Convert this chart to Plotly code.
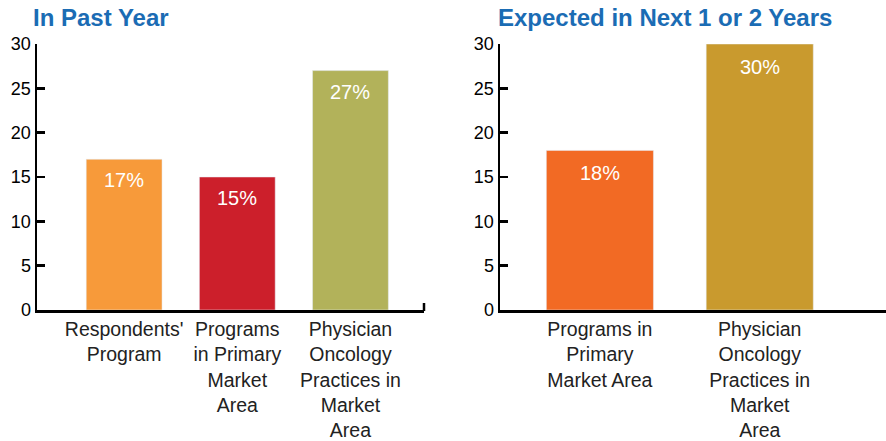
import plotly.graph_objects as go

# Data
left_categories = ["Respondents'<br>Program", "Programs<br>in Primary<br>Market<br>Area",
                   "Physician<br>Oncology<br>Practices in<br>Market<br>Area"]
left_values = [17, 15, 27]
left_colors = ["#F79A3A", "#CC1F2B", "#B2B25A"]

right_categories = ["Programs in<br>Primary<br>Market Area",
                    "Physician<br>Oncology<br>Practices in<br>Market<br>Area"]
right_values = [18, 30]
right_colors = ["#F26A24", "#C99A2E"]

y_ticks = [0, 5, 10, 15, 20, 25, 30]

W, H = 886, 441
FONT = "Liberation Sans, Arial, sans-serif"

fig = go.Figure()
fig.add_trace(go.Bar(x=list(range(len(left_values))), y=left_values, marker_color=left_colors,
                     width=0.67, xaxis="x", yaxis="y", showlegend=False, hoverinfo="skip"))
fig.add_trace(go.Bar(x=list(range(len(right_values))), y=right_values, marker_color=right_colors,
                     width=0.67, xaxis="x2", yaxis="y2", showlegend=False, hoverinfo="skip"))

ydom = [1 - 310 / H, 1 - 44 / H]
axis_common = dict(showline=True, linecolor="black", linewidth=2.5, showgrid=False, zeroline=False,
                   automargin=False)
yaxis_common = dict(domain=ydom, range=[0, 30], tickmode="array", tickvals=y_ticks,
                    ticks="inside", ticklen=8, tickwidth=2.5, tickcolor="black",
                    tickfont=dict(size=18, color="black"), **axis_common)

fig.update_layout(
    width=W, height=H,
    margin=dict(l=0, r=0, t=0, b=0),
    plot_bgcolor="white", paper_bgcolor="white",
    font=dict(family=FONT, color="#222"),
    bargap=0,
    xaxis=dict(domain=[37 / W, 424 / W], range=[-0.77, 2.65],
               tickmode="array", tickvals=list(range(len(left_categories))), ticktext=left_categories,
               ticks="", tickfont=dict(size=19.5, color="#222"), **axis_common),
    yaxis=dict(**yaxis_common),
    xaxis2=dict(domain=[500 / W, 1.0], range=[-0.625, 1.79], anchor="y2",
                tickmode="array", tickvals=list(range(len(right_categories))), ticktext=right_categories,
                ticks="", tickfont=dict(size=19.5, color="#222"), **axis_common),
    yaxis2=dict(anchor="x2", **yaxis_common),
)

# Value labels inside bars
for i, v in enumerate(left_values):
    fig.add_annotation(x=i, y=v, xref="x", yref="y", text=f"{v}%", showarrow=False,
                       yshift=-21, font=dict(size=20, color="white", family=FONT))
for i, v in enumerate(right_values):
    fig.add_annotation(x=i, y=v, xref="x2", yref="y2", text=f"{v}%", showarrow=False,
                       yshift=-23, font=dict(size=20, color="white", family=FONT))

# Titles
fig.add_annotation(x=31 / W, y=1 - 17 / H, xref="paper", yref="paper", text="<b>In Past Year</b>",
                   showarrow=False, xanchor="left", yanchor="middle",
                   font=dict(size=24, color="#1B6CB4", family=FONT))
fig.add_annotation(x=496 / W, y=1 - 17 / H, xref="paper", yref="paper",
                   text="<b>Expected in Next 1 or 2 Years</b>",
                   showarrow=False, xanchor="left", yanchor="middle",
                   font=dict(size=24, color="#1B6CB4", family=FONT))

# small end tick on left x axis
fig.add_shape(type="line", xref="paper", yref="paper", x0=424 / W, x1=424 / W,
              y0=1 - 311 / H, y1=1 - 303 / H, line=dict(color="black", width=2.5))
# right x axis baseline running to the page edge
fig.add_shape(type="line", xref="paper", yref="paper", x0=500 / W, x1=1.0,
              y0=1 - 311.25 / H, y1=1 - 311.25 / H, line=dict(color="black", width=2.5))

fig.write_html("out.html", config={"displayModeBar": False, "staticPlot": True},
               post_script="document.body.style.margin='0';document.body.style.overflow='hidden';")
